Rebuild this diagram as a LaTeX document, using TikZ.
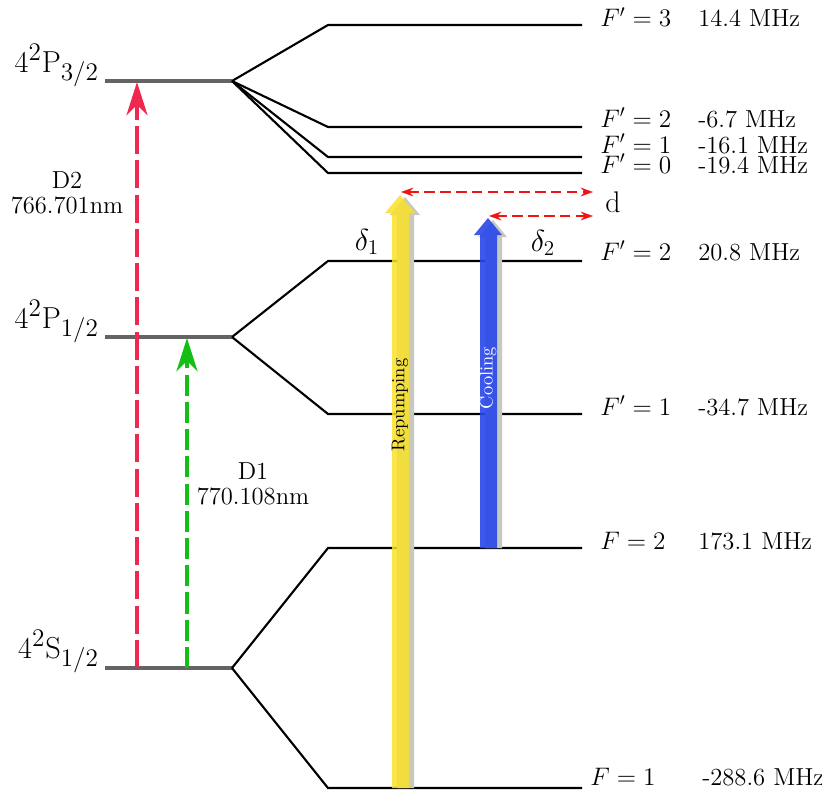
\documentclass[tikz,border=0pt]{standalone}
\usepackage{amsmath}
\definecolor{dtwored}{RGB}{240,40,80}
\definecolor{donegreen}{RGB}{20,190,20}
\definecolor{repyellow}{RGB}{250,225,40}
\definecolor{coolblue}{RGB}{40,70,235}
\definecolor{levelgray}{RGB}{100,100,100}
\definecolor{beamshadow}{RGB}{200,200,195}
\definecolor{detred}{RGB}{240,20,20}
\usetikzlibrary{arrows.meta,positioning}
\tikzset{
  fine/.style={line width=2.8pt,levelgray},
  hyper/.style={line width=1.2pt,black},
  statelab/.style={font=\fontsize{19}{22}\selectfont,anchor=base east,inner sep=1pt},
  flab/.style={font=\fontsize{14}{16}\selectfont,anchor=base west,inner sep=0pt},
  wlab/.style={font=\fontsize{14}{16}\selectfont,align=center},
  beamlab/.style={font=\fontsize{10.5}{12}\selectfont,rotate=90},
  symlab/.style={font=\fontsize{17}{19}\selectfont},
  transition/.style={line width=2.3pt,-{Stealth[length=19pt,width=12pt,inset=6pt]}},
  detuning/.style={detred,line width=0.9pt,dash pattern=on 6pt off 3pt,
    {Stealth[length=7pt,width=5pt]}-{Stealth[length=7pt,width=5pt]}}
}

\begin{document}
\begin{tikzpicture}[x=0.02cm,y=-0.02cm]
  \useasboundingbox (0,0) rectangle (822,791);

  % Fine structure levels
  \coordinate (P32a) at (105,81);  \coordinate (P32) at (232,81);
  \coordinate (P12a) at (105,337); \coordinate (P12) at (232,337);
  \coordinate (S12a) at (105,668); \coordinate (S12) at (232,668);
  \draw[fine] (P32a) -- (P32);
  \draw[fine] (P12a) -- (P12);
  \draw[fine] (S12a) -- (S12);
  \node[statelab] (lP32) at (101,72) {$4^2\mathrm{P}_{3/2}$};
  \node[statelab] (lP12) at (101,328) {$4^2\mathrm{P}_{1/2}$};
  \node[statelab] (lS12) at (101,658) {$4^2\mathrm{S}_{1/2}$};

  % Hyperfine levels
  \foreach \name/\y/\fl/\lx/\ly/\freq/\mx/\src in {
      pthree/25/{F'=3}/600/27/{14.4 MHz}/698/P32,
      ptwo/127/{F'=2}/600/127/{-6.7 MHz}/698/P32,
      pone/157/{F'=1}/600/153/{-16.1 MHz}/698/P32,
      pzero/173/{F'=0}/600/173/{-19.4 MHz}/698/P32,
      qtwo/261/{F'=2}/600/260/{20.8 MHz}/698/P12,
      qone/414/{F'=1}/600/415/{-34.7 MHz}/698/P12,
      stwo/548/{F=2}/600/549/{173.1 MHz}/698/S12,
      sone/788/{F=1}/590/785/{-288.6 MHz}/702/S12} {
    \coordinate (\name a) at (328,\y);
    \coordinate (\name b) at (582,\y);
    \draw[hyper] (\src) -- (\name a) -- (\name b);
    \node[flab] (\name F) at (\lx,\ly) {$\fl$};
    \node[flab] (\name M) at (\mx,\ly) {\freq};
  }

  % D lines
  \coordinate (dtwoS) at (137,668); \coordinate (dtwoP) at (137,82);
  \coordinate (doneS) at (187,668); \coordinate (doneP) at (187,338);
  \draw[transition,dtwored,dash pattern=on 16pt off 3.5pt] (dtwoS) -- (dtwoP);
  \draw[transition,donegreen,dash pattern=on 12pt off 3.5pt] (doneS) -- (doneP);
  \node[wlab] (dtwolab) at (67,193) {D2\\[-2pt]766.701nm};
  \node[wlab] (donelab) at (253,484) {D1\\[-2pt]770.108nm};

  % Repumping beam
  \fill[beamshadow] (397,788) -- (397,215) -- (390,215) -- (405,197)
    -- (420,215) -- (414,215) -- (414,788) -- cycle;
  \fill[repyellow,opacity=0.85] (392,788) -- (392,213) -- (385,213) -- (400,195)
    -- (415,213) -- (409,213) -- (409,788) -- cycle;
  \node[beamlab] (replab) at (400,405) {Repumping};

  % Cooling beam
  \fill[beamshadow] (485,548) -- (485,237) -- (479,237) -- (493,220)
    -- (507,237) -- (502,237) -- (502,548) -- cycle;
  \fill[coolblue,opacity=0.9] (480,548) -- (480,235) -- (474,235) -- (488,218)
    -- (502,235) -- (497,235) -- (497,548) -- cycle;
  \node[beamlab,white] (coollab) at (488,378) {Cooling};

  % Detunings
  \coordinate (dLa) at (401,192); \coordinate (dRa) at (593,192);
  \coordinate (dLb) at (489,216); \coordinate (dRb) at (593,216);
  \draw[detuning] (dLa) -- (dRa);
  \draw[detuning] (dLb) -- (dRb);
  \node[symlab] (dlab) at (613,202) {d};
  \node[symlab] (deltaone) at (367,242) {$\delta_1$};
  \node[symlab] (deltatwo) at (543,243) {$\delta_2$};
\end{tikzpicture}
\end{document}
